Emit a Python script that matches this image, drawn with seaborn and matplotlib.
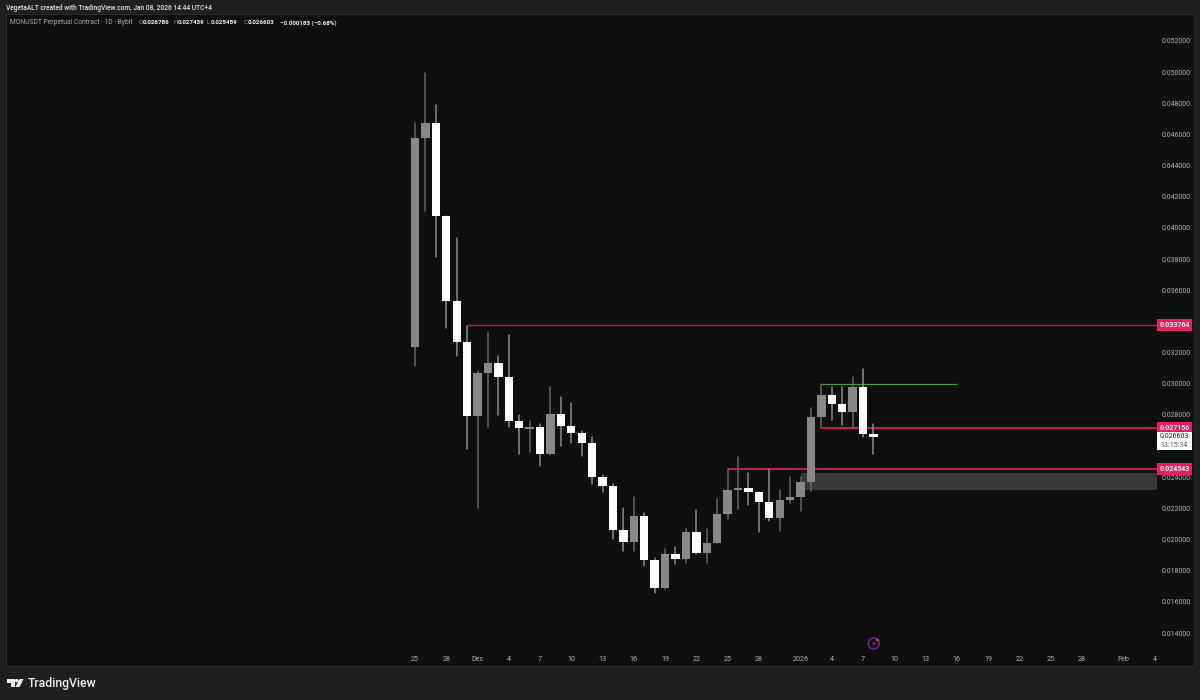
import pandas as pd
import seaborn as sns
import matplotlib.pyplot as plt
from matplotlib.patches import Rectangle, Polygon, Circle
from matplotlib.transforms import blended_transform_factory

# candles, 1D, first one is 25 Nov
opens = [.032358, .045774, .046756, .040767, .035330, .032679, .027948, .030709, .031363, .030432, .027640,
         .027114, .027204, .025509, .028077, .027287, .026838, .026164, .024045, .023436, .020611, .019861,
         .021542, .018718, .016869, .019051, .018769, .020483, .019135, .019757, .021658, .023160, .023326,
         .023051, .022409, .021382, .022556, .022710, .023673, .027884, .029258, .028699, .028205, .029790, .026786]
highs = [.046756, .049946, .047892, .040767, .039355, .033725, .030818, .033321, .031780, .033128, .027993,
         .027608, .027415, .029771, .029149, .028744, .026966, .026581, .024161, .023564, .022043, .022710,
         .021683, .018833, .019392, .019501, .020656, .021895, .020656, .022582, .024527, .025278, .024289,
         .023051, .024527, .023160, .023994, .024013, .028442, .029983, .029810, .029810, .030452, .030946, .027439]
lows = [.031158, .041088, .038154, .033578, .031800, .025811, .022023, .027242, .027993, .027242, .025490,
        .025637, .024739, .025426, .026023, .026177, .025361, .023583, .023031, .020034, .019263, .019263,
        .018300, .016567, .016824, .018410, .018474, .019071, .018474, .019757, .021337, .021959, .022235,
        .020502, .021189, .020547, .022325, .021850, .023134, .027178, .027672, .027370, .027178, .026600, .025459]
closes = [.045774, .046756, .040767, .035330, .032679, .027948, .030709, .031363, .030432, .027640, .027159,
          .027204, .025509, .028077, .027287, .026838, .026164, .024045, .023436, .020611, .019861, .021542,
          .018718, .016869, .019051, .018769, .020483, .019135, .019757, .021658, .023160, .023326, .023051,
          .022409, .021382, .022556, .022710, .023673, .027884, .029258, .028699, .028205, .029790, .026786, .026603]

# axis labels
day_ticks = [0, 3, 6, 9, 12, 15, 18, 21, 24, 27, 30, 33, 37, 40, 43, 46, 49, 52, 55, 58, 61, 64, 68, 71]
day_labels = ['25', '28', 'Dec', '4', '7', '10', '13', '16', '19', '22', '25', '28',
              '2026', '4', '7', '10', '13', '16', '19', '22', '25', '28', 'Feb', '4']
# 0.026 and 0.034 are covered by the price tags, 0.026 fully
price_ticks = [0.014, 0.016, 0.018, 0.020, 0.022, 0.024, 0.028, 0.030, 0.032, 0.034, 0.036,
               0.038, 0.040, 0.042, 0.044, 0.046, 0.048, 0.050, 0.052]

# drawn levels: price, first day
red_levels = [0.033764, 0.027156, 0.024543]
red_starts = [5, 39, 30]
green_level = 0.030000
green_days = [39, 52]
zone_prices = [0.023211, 0.024302]
last_price = 0.026603
countdown = '13:15:34'

BG = '#1f1f1f'
PANE = '#0f0f0f'
PINK = '#e91e63'
LINE_PINK = '#c2185b'

sns.set_theme(style='dark', rc={'figure.facecolor': BG, 'axes.facecolor': PANE, 'axes.grid': False})
plt.rcParams['font.family'] = ['Roboto', 'DejaVu Sans']

df = pd.DataFrame({'day': range(len(opens)), 'open': opens, 'high': highs, 'low': lows, 'close': closes})
df['dir'] = ['up' if c >= o else 'down' for o, c in zip(df['open'], df['close'])]
df['bottom'] = df[['open', 'close']].min(axis=1)
df['height'] = (df['open'] - df['close']).abs()

wicks = df.melt(id_vars=['day', 'dir'], value_vars=['high', 'low'], value_name='price')

fig = plt.figure(figsize=(12, 7), dpi=100)
ax = fig.add_axes([6 / 1200, 34 / 700, 1188 / 1200, 652 / 700])

# level lines and the grey zone sit under the candles
right_day = 71.2
ax.add_patch(Rectangle((37, zone_prices[0]), right_day - 37, zone_prices[1] - zone_prices[0],
                       color='#383838', lw=0, zorder=1))
ax.hlines(red_levels[0], red_starts[0], right_day, color=LINE_PINK, lw=1.0, zorder=1.5)
ax.hlines(red_levels[1], red_starts[1], right_day, color=PINK, lw=1.2, zorder=1.5)
ax.hlines(red_levels[2], red_starts[2], right_day, color=PINK, lw=1.2, zorder=1.5)
ax.hlines(green_level, green_days[0], green_days[1], color='#4c9a50', lw=0.9, zorder=1.5)

sns.lineplot(data=wicks, x='day', y='price', units='day', estimator=None, hue='dir',
             palette={'up': '#666666', 'down': '#8c8c8c'}, lw=1.1, legend=False, zorder=2, ax=ax)

for name, colour in [('up', '#888888'), ('down', '#ffffff')]:
    sub = df[df['dir'] == name]
    sns.barplot(data=sub, x='day', y='height', bottom=sub['bottom'].values, native_scale=True,
                width=0.8, color=colour, saturation=1, linewidth=0, errorbar=None, zorder=3, ax=ax)

ax.set_xlim(-39.25, 74.76)
ax.set_ylim(0.011882, 0.053733)
ax.set_xlabel('')
ax.set_ylabel('')
ax.set_xticks(day_ticks)
ax.set_xticklabels(day_labels)
ax.set_yticks(price_ticks)
ax.set_yticklabels([f'{p:.6f}' for p in price_ticks])
ax.yaxis.tick_right()
ax.tick_params(axis='y', length=0, pad=-23.5, labelsize=5, labelcolor='#b4b4b4')
ax.tick_params(axis='x', length=0, pad=-7.4, labelsize=5.2, labelcolor='#b4b4b4')
for s in ax.spines.values():
    s.set_color('#2c2c2c')
    s.set_linewidth(0.7)

# price tags on the scale
tr = blended_transform_factory(ax.transAxes, ax.transData)
tag_x = 1151 / 1188
tag_w = 35 / 1188
px = 1 / 15579
for lvl in red_levels:
    ax.add_patch(Rectangle((tag_x, lvl - 6 * px), tag_w, 12 * px, transform=tr, color=PINK, lw=0, zorder=5))
    ax.text(tag_x + tag_w / 2, lvl, f'{lvl:.6f}', transform=tr, color='white', fontsize=5, fontweight='bold',
            ha='center', va='center', zorder=6)
# white box hangs under the 0.027156 tag
box_mid = red_levels[1] - 13 * px
ax.add_patch(Rectangle((tag_x, box_mid - 9 * px), tag_w, 18 * px, transform=tr, color='white', lw=0, zorder=5))
ax.text(tag_x + tag_w / 2, box_mid + 4.5 * px, f'{last_price:.6f}', transform=tr, color='#222222', fontsize=5,
        ha='center', va='center', zorder=6)
ax.text(tag_x + tag_w / 2, box_mid - 4.5 * px, countdown, transform=tr, color='#555555', fontsize=5,
        ha='center', va='center', zorder=6)


def fx(x):
    return x / 1200


def fy(y):
    return 1 - y / 700


# header
fig.text(fx(6), fy(8), 'VegetaALT created with TradingView.com, Jan 08, 2026 14:44 UTC+4',
         color='#e6e6e6', fontsize=4.78, fontweight='medium', va='center')
fig.text(fx(10), fy(23), 'MONUSDT Perpetual Contract · 1D · Bybit', color='#a8a8a8', fontsize=4.85, va='center')
legend_bits = [(139, 'O', False), (143, '0.026786', True), (174, 'H', False), (178, '0.027439', True),
               (207, 'L', False), (211, '0.025459', True), (244, 'C', False), (248, '0.026603', True),
               (280, '−0.000183 (−0.68%)', True)]
for x, txt, strong in legend_bits:
    fig.text(fx(x), fy(23), txt, color='#f0f0f0' if strong else '#a8a8a8', fontsize=4.5,
             fontweight='bold' if strong else 'normal', va='center')

# TradingView logo and wordmark
logo = [
    Polygon([(7, 679), (14.5, 679), (14.5, 687), (10.5, 687), (10.5, 682.5), (7, 682.5)]),
    Polygon([(19.5, 679), (23.5, 679), (19.5, 687), (15.5, 687)]),
]
for p in logo:
    p.set(xy=[(fx(a), fy(b)) for a, b in p.get_xy()], transform=fig.transFigure, facecolor='#eeeeee', lw=0)
    fig.add_artist(p)
fig.add_artist(Circle((16.7, 700 - 680.7), 1.8, transform=None, facecolor='#eeeeee', lw=0))
fig.text(fx(28), fy(683.5), 'TradingView', color='#eeeeee', fontsize=8.8, fontweight='medium', va='center')

# lightning badge
fig.add_artist(Circle((873.7, 700 - 643.5), 5.5, transform=None, facecolor='none', edgecolor='#8e24aa', lw=0.9))
fig.add_artist(Circle((877.5, 700 - 640), 1.4, transform=None, facecolor='#f23645', lw=0))
bolt = [(874.8, 640.5), (871.8, 644.2), (873.6, 644.2), (872.6, 646.8), (875.8, 642.9), (874, 642.9)]
fig.add_artist(Polygon([(fx(a), fy(b)) for a, b in bolt], transform=fig.transFigure, facecolor='#8e24aa', lw=0))

fig.savefig('out.png', dpi=100, facecolor=BG)
